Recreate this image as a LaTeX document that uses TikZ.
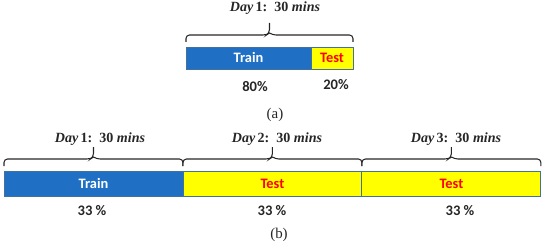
\documentclass[tikz,border=0pt]{standalone}
\usepackage{fontspec}
\newfontfamily\boxfont{Carlito}
\newfontfamily\dayfont{Liberation Serif}
\usepackage{xcolor}
\definecolor{splitBlue}{HTML}{1F6FC5}
\definecolor{splitYellow}{HTML}{FFFF00}
\definecolor{splitRed}{HTML}{FF0000}
\definecolor{splitEdge}{HTML}{41719C}
\definecolor{splitGray}{HTML}{262626}
\usepackage{tikz}
\usetikzlibrary{positioning,calc}

\begin{document}
\begin{tikzpicture}[x=0.02cm,y=0.02cm]
  \tikzset{
    trainbox/.style={
      draw=splitEdge,
      fill=splitBlue,
      text=white,
      line width=0.5pt,
      inner sep=0pt,
      outer sep=0pt,
      font=\boxfont\bfseries\fontsize{8.2}{9}\selectfont,
    },
    testbox/.style={
      trainbox,
      fill=splitYellow,
      text=splitRed,
    },
    % square-ish brace: hooks at the ends, short stub in the middle
    daybrace/.style={
      draw=splitGray,
      line width=0.6pt,
      rounded corners=2,
      to path={
        (\tikztostart) -- ($(\tikztostart)+(0,7)$)
        -- ($(\tikztostart)!0.5!(\tikztotarget)+(-3,7)$)
        -- ($(\tikztostart)!0.5!(\tikztotarget)+(0,9)$)
        -- ($(\tikztostart)!0.5!(\tikztotarget)+(0,19)$)
        ($(\tikztostart)!0.5!(\tikztotarget)+(0,9)$)
        -- ($(\tikztostart)!0.5!(\tikztotarget)+(3,7)$)
        -- ($(\tikztotarget)+(0,7)$) -- (\tikztotarget)
      },
    },
    daylabel/.style={
      font=\dayfont\bfseries\fontsize{8}{9}\selectfont,
      text=splitGray,
      inner sep=1pt,
    },
    pctlabel/.style={
      font=\boxfont\bfseries\fontsize{8.3}{10}\selectfont,
      text=splitGray,
      inner sep=1pt,
    },
    caplabel/.style={
      font=\dayfont\fontsize{8.5}{10}\selectfont,
      text=splitGray,
      inner sep=1pt,
    },
  }

  \useasboundingbox (0,0) rectangle (550,247);

  % (a) one day, split 80/20
  \node[trainbox,minimum width=2.5cm,minimum height=0.44cm,anchor=north west]
    (trainA) at (186,200) {Train};
  \node[testbox,minimum width=0.84cm,minimum height=0.44cm,right=0pt of trainA]
    (testA) {Test};

  \draw[daybrace] ([yshift=0.1cm]trainA.north west) to ([yshift=0.1cm]testA.north east);
  \node[daylabel] (dayA) at (275,239) {\textit{Day}\,1:\ \ 30\ \textit{mins}};

  \node[pctlabel] (pctTrainA) at (255,160) {80\%};
  \node[pctlabel] (pctTestA) at (336,162) {20\%};
  \node[caplabel] (capA) at (275,132) {(a)};

  % (b) one day per block
  \node[trainbox,minimum width=3.58cm,minimum height=0.5cm,anchor=north west]
    (trainB) at (4,76) {Train};
  \node[testbox,minimum width=3.58cm,minimum height=0.5cm,right=0pt of trainB]
    (testB) {Test};
  \node[testbox,minimum width=3.58cm,minimum height=0.5cm,right=0pt of testB]
    (testC) {Test};

  \draw[daybrace] ([yshift=0.1cm]trainB.north west) to ([yshift=0.1cm]trainB.north east);
  \draw[daybrace] ([yshift=0.1cm]testB.north west) to ([yshift=0.1cm]testB.north east);
  \draw[daybrace] ([yshift=0.1cm]testC.north west) to ([yshift=0.1cm]testC.north east);

  \node[daylabel] (dayB1) at (100,108) {\textit{Day}\,1:\ \ 30\ \textit{mins}};
  \node[daylabel] (dayB2) at (277,108) {\textit{Day}\,2:\ \ 30\ \textit{mins}};
  \node[daylabel] (dayB3) at (456,108) {\textit{Day}\,3:\ \ 30\ \textit{mins}};

  \node[pctlabel] (pctTrainB) at (92,36) {33 \%};
  \node[pctlabel] (pctTestB) at (272,36) {33 \%};
  \node[pctlabel] (pctTestC) at (460,36) {33 \%};
  \node[caplabel] (capB) at (279,12) {(b)};
\end{tikzpicture}
\end{document}
